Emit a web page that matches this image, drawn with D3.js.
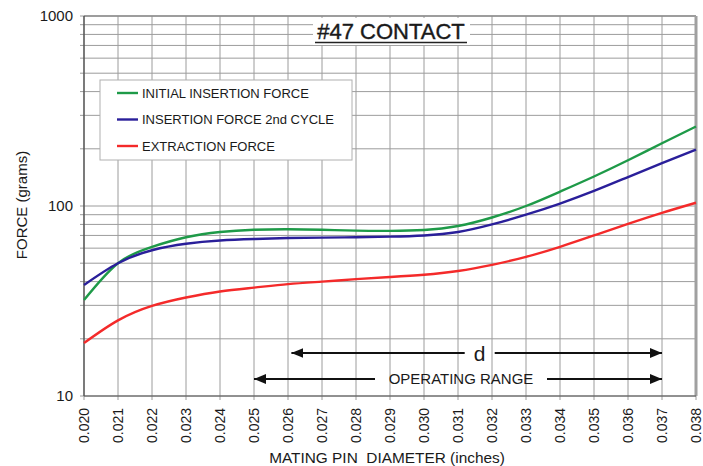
<!DOCTYPE html>
<html>
<head>
<meta charset="utf-8">
<script src="https://cdn.jsdelivr.net/npm/d3@7"></script>
<style>
  body { margin: 0; background: #fff; }
  text { font-family: "Liberation Sans", Arial, sans-serif; fill: #1a1a1a; }
</style>
</head>
<body>
<div id="chart"></div>
<script>
// mating pin diameter (inches)
const diameters = [0.020, 0.021, 0.022, 0.023, 0.024, 0.025, 0.026, 0.027, 0.028, 0.029,
                   0.030, 0.031, 0.032, 0.033, 0.034, 0.035, 0.036, 0.037, 0.038];
const initialInsertion = [32, 50, 61, 68.5, 73, 75, 75.5, 75, 74.2, 74, 74.8, 78.5, 87, 100, 119, 143, 174, 214, 262];
const secondInsertion  = [38.4, 50, 58.5, 63.3, 65.8, 67, 67.8, 68.2, 68.5, 69, 70, 73, 80, 90, 103, 120, 142, 168, 198];
const extraction       = [19, 25, 29.8, 33, 35.5, 37.2, 38.8, 40, 41.2, 42.3, 43.5, 45.5, 49, 54, 61, 70, 80.5, 92, 104];

const seriesNames = ["INITIAL INSERTION FORCE", "INSERTION FORCE 2nd CYCLE", "EXTRACTION FORCE"];
const seriesColors = ["#1e9a48", "#2a1f9a", "#f42a2a"];
const yTickLabels = [10, 100, 1000];

// arrows: [from, to] in inches
const dRange = [0.0261, 0.0370];
const operatingRange = [0.0250, 0.0370];

const width = 703, height = 466;
const margin = { top: 16, right: 7, bottom: 70, left: 84 };
const w = width - margin.left - margin.right;
const h = height - margin.top - margin.bottom;

const svg = d3.select("#chart").append("svg")
    .attr("width", width)
    .attr("height", height);

const g = svg.append("g")
    .attr("transform", `translate(${margin.left}, ${margin.top})`);

const x = d3.scaleLinear().domain([0.020, 0.038]).range([0, w]);
const y = d3.scaleLog().domain([10, 1000]).range([h, 0]);

// grid values
const yGrid = [];
[10, 100].forEach(base => {
    for (let i = 1; i < 10; i++) yGrid.push(base * i);
});
yGrid.push(1000);

g.append("g").selectAll("line.hgrid")
    .data(yGrid)
    .enter().append("line")
    .attr("x1", -4).attr("x2", w)
    .attr("y1", d => y(d)).attr("y2", d => y(d))
    .attr("stroke", "#9c9c9c")
    .attr("stroke-width", 1);

g.append("g").selectAll("line.vgrid")
    .data(diameters)
    .enter().append("line")
    .attr("x1", d => x(d)).attr("x2", d => x(d))
    .attr("y1", 0).attr("y2", h + 4)
    .attr("stroke", "#9c9c9c")
    .attr("stroke-width", 1);

// frame
g.append("line").attr("x1", 0).attr("x2", w).attr("y1", 0).attr("y2", 0)
    .attr("stroke", "#8c8c8c").attr("stroke-width", 1.5);
g.append("line").attr("x1", w).attr("x2", w).attr("y1", 0).attr("y2", h)
    .attr("stroke", "#a0a0a0").attr("stroke-width", 3);
g.append("line").attr("x1", 0).attr("x2", 0).attr("y1", 0).attr("y2", h)
    .attr("stroke", "#444").attr("stroke-width", 1.2);
g.append("line").attr("x1", 0).attr("x2", w).attr("y1", h).attr("y2", h)
    .attr("stroke", "#555").attr("stroke-width", 1.2);

// y labels
g.append("g").selectAll("text")
    .data(yTickLabels)
    .enter().append("text")
    .attr("x", -11)
    .attr("y", d => y(d))
    .attr("dy", "0.36em")
    .attr("text-anchor", "end")
    .style("font-size", "15px")
    .text(d => d);

// x labels
g.append("g").selectAll("text")
    .data(diameters)
    .enter().append("text")
    .attr("transform", d => `translate(${x(d)}, ${h + 12}) rotate(-90)`)
    .attr("dy", "0.36em")
    .attr("text-anchor", "end")
    .style("font-size", "14px")
    .text(d => d.toFixed(3));

// axis titles
svg.append("text")
    .attr("x", 387)
    .attr("y", 463)
    .attr("text-anchor", "middle")
    .style("font-size", "15.4px")
    .attr("xml:space", "preserve")
    .text("MATING PIN  DIAMETER (inches)");

svg.append("text")
    .attr("transform", "translate(27, 205) rotate(-90)")
    .attr("text-anchor", "middle")
    .style("font-size", "15px")
    .text("FORCE (grams)");

// title
const title = svg.append("g");
title.append("rect")
    .attr("x", 313).attr("y", 18).attr("width", 157).attr("height", 27)
    .attr("fill", "#fff");
title.append("text")
    .attr("x", 391).attr("y", 39)
    .attr("text-anchor", "middle")
    .style("font-size", "22px")
    .style("stroke", "#1a1a1a")
    .style("stroke-width", 0.4)
    .text("#47 CONTACT");
title.append("line")
    .attr("x1", 315).attr("x2", 467).attr("y1", 42.5).attr("y2", 42.5)
    .attr("stroke", "#222").attr("stroke-width", 1.5);

// curves
const line = d3.line()
    .x((d, i) => x(diameters[i]))
    .y(d => y(d))
    .curve(d3.curveNatural);

[initialInsertion, secondInsertion, extraction].forEach((vals, i) => {
    g.append("path")
        .datum(vals)
        .attr("fill", "none")
        .attr("stroke", seriesColors[i])
        .attr("stroke-width", 2.4)
        .attr("d", line);
});

// legend
const legend = svg.append("g");
legend.append("rect")
    .attr("x", 100).attr("y", 80).attr("width", 252).attr("height", 80)
    .attr("fill", "#fff")
    .attr("stroke", "#b0b0b0");
seriesNames.forEach((name, i) => {
    const ly = 93 + i * 26.5;
    legend.append("line")
        .attr("x1", 117).attr("x2", 138).attr("y1", ly).attr("y2", ly)
        .attr("stroke", seriesColors[i]).attr("stroke-width", 2.4);
    legend.append("text")
        .attr("x", 142).attr("y", ly)
        .attr("dy", "0.36em")
        .style("font-size", "13px")
        .text(name);
});

// range arrows
svg.append("defs").append("marker")
    .attr("id", "head")
    .attr("viewBox", "0 0 12 10")
    .attr("refX", 12).attr("refY", 5)
    .attr("markerWidth", 12).attr("markerHeight", 10)
    .attr("markerUnits", "userSpaceOnUse")
    .attr("orient", "auto-start-reverse")
    .append("path")
    .attr("d", "M0,0 L12,5 L0,10 Z")
    .attr("fill", "#111");

function rangeArrow(range, yPos, label, size, gap) {
    const x0 = margin.left + x(range[0]);
    const x1 = margin.left + x(range[1]);
    const mid = (x0 + x1) / 2 + 3;
    const grp = svg.append("g");
    grp.append("line")
        .attr("x1", x0).attr("x2", mid - gap).attr("y1", yPos).attr("y2", yPos)
        .attr("stroke", "#111").attr("stroke-width", 2)
        .attr("marker-start", "url(#head)");
    grp.append("line")
        .attr("x1", mid + gap).attr("x2", x1).attr("y1", yPos).attr("y2", yPos)
        .attr("stroke", "#111").attr("stroke-width", 2)
        .attr("marker-end", "url(#head)");
    grp.append("text")
        .attr("x", mid).attr("y", yPos)
        .attr("dy", "0.36em")
        .attr("text-anchor", "middle")
        .style("font-size", size)
        .text(label);
}

rangeArrow(dRange, 353, "d", "21px", 15);
rangeArrow(operatingRange, 379, "OPERATING RANGE", "15px", 86);
</script>
</body>
</html>
